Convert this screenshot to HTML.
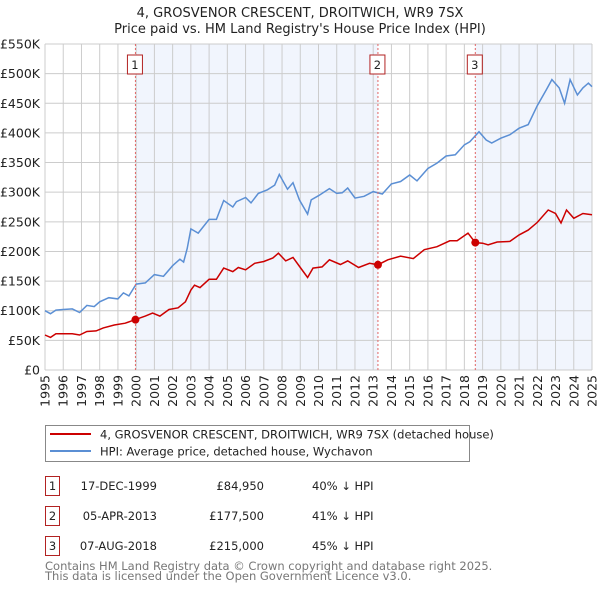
<!DOCTYPE html>
<html><head><meta charset="utf-8"><style>
body{margin:0;background:#fff;width:600px;height:590px;overflow:hidden}
svg{display:block;font-family:"DejaVu Sans","Liberation Sans",sans-serif}
</style></head><body>
<svg id="chart" width="600" height="590" viewBox="0 0 600 590">
<text x="300" y="17" text-anchor="middle" font-size="13" fill="#222">4, GROSVENOR CRESCENT, DROITWICH, WR9 7SX</text>
<text x="300" y="33" text-anchor="middle" font-size="13" fill="#222">Price paid vs. HM Land Registry's House Price Index (HPI)</text>
<g id="shade"></g><g id="grid"></g><g id="series"></g><g id="marks"></g>
<g>
<rect x="45.5" y="425.5" width="424" height="36" fill="#fff" stroke="#888"/>
<line x1="50" y1="434" x2="91" y2="434" stroke="#cc0000" stroke-width="2"/>
<text x="100" y="438.5" font-size="11.5" fill="#222">4, GROSVENOR CRESCENT, DROITWICH, WR9 7SX (detached house)</text>
<line x1="50" y1="451" x2="91" y2="451" stroke="#5b8fd4" stroke-width="2"/>
<text x="100" y="455.5" font-size="11.5" fill="#222">HPI: Average price, detached house, Wychavon</text>
</g>
<g id="table" font-size="11.5" fill="#222"></g>
<text x="45" y="570" font-size="11.5" fill="#777">Contains HM Land Registry data © Crown copyright and database right 2025.</text>
<text x="45" y="580" font-size="11.5" fill="#777">This data is licensed under the Open Government Licence v3.0.</text>
</svg>
<script>
const yTicks=[0,50,100,150,200,250,300,350,400,450,500,550];
const yTickLabels=["£0","£50K","£100K","£150K","£200K","£250K","£300K","£350K","£400K","£450K","£500K","£550K"];
const xYears=[1995,1996,1997,1998,1999,2000,2001,2002,2003,2004,2005,2006,2007,2008,2009,2010,2011,2012,2013,2014,2015,2016,2017,2018,2019,2020,2021,2022,2023,2024,2025];
const hpiT=[1995,1995.3,1995.6,1996,1996.5,1996.9,1997.3,1997.7,1998,1998.5,1999,1999.3,1999.6,2000,2000.5,2001,2001.5,2002,2002.4,2002.6,2002.8,2003,2003.4,2004,2004.4,2004.8,2005.3,2005.5,2006,2006.3,2006.7,2007.2,2007.6,2007.85,2008.3,2008.6,2008.95,2009.4,2009.6,2010,2010.6,2011,2011.3,2011.6,2012,2012.5,2013,2013.5,2014,2014.5,2015,2015.4,2016,2016.5,2017,2017.5,2018,2018.3,2018.8,2019.2,2019.5,2020,2020.5,2021,2021.5,2022,2022.5,2022.8,2023.2,2023.5,2023.8,2024.2,2024.5,2024.8,2025];
const hpiV=[100,95,101,102,103,97,109,107,115,122,120,130,125,145,147,161,158,176,187,182,205,238,231,254,254,286,275,284,291,282,298,304,312,330,305,316,287,263,287,294,306,298,299,307,290,293,301,297,314,318,329,319,340,349,361,363,380,385,402,388,383,391,397,408,414,446,473,490,476,450,490,464,476,484,478];
const ppT=[1995,1995.3,1995.6,1996.5,1996.9,1997.3,1997.8,1998.2,1998.8,1999.4,1999.96,2000.5,2000.9,2001.3,2001.8,2002.3,2002.7,2003,2003.2,2003.5,2004,2004.4,2004.8,2005.3,2005.6,2006,2006.5,2007,2007.5,2007.8,2008.2,2008.6,2009,2009.4,2009.7,2010.2,2010.6,2011.2,2011.6,2012.2,2012.8,2013.26,2013.8,2014.5,2015.2,2015.8,2016.5,2017.2,2017.6,2018.2,2018.6,2019,2019.3,2019.8,2020.5,2021,2021.5,2022,2022.6,2023,2023.3,2023.6,2024,2024.5,2025];
const ppV=[59,55,61,61,59,65,66,71,76,79,85,91,96,91,102,105,115,135,143,139,153,153,172,166,173,169,180,183,189,197,184,190,173,156,172,174,186,178,184,173,180,177.5,186,192,188,203,208,218,218,231,215,214,211,216,217,228,236,249,270,264,248,270,256,264,262];
const saleT=[1999.96,2013.26,2018.6];
const saleV=[84.95,177.5,215];
const saleLabels=["1","2","3"];
const saleDates=["17-DEC-1999","05-APR-2013","07-AUG-2018"];
const salePrices=["£84,950","£177,500","£215,000"];
const salePct=["40% ↓ HPI","41% ↓ HPI","45% ↓ HPI"];
const NS="http://www.w3.org/2000/svg";
const X0=45,X1=592,Y0=370,Y1=44;
function xs(t){return X0+(t-1995)/30*(X1-X0);}
function ys(v){return Y0-v/550*(Y0-Y1);}
function mk(p,tag,at){const e=document.createElementNS(NS,tag);for(const k in at)e.setAttribute(k,at[k]);p.appendChild(e);return e;}
const shade=document.getElementById('shade'),grid=document.getElementById('grid'),series=document.getElementById('series'),marks=document.getElementById('marks'),table=document.getElementById('table');
const spans=[[saleT[0],saleT[1]],[saleT[2],2025]];
spans.forEach((s,i)=>{const r=mk(shade,'rect',{x:xs(s[0]),y:Y1,width:xs(s[1])-xs(s[0]),height:Y0-Y1,fill:'#eef3fc',opacity:0.8});

});
yTicks.forEach((v,i)=>{const l=mk(grid,'line',{x1:X0,x2:X1,y1:ys(v),y2:ys(v),stroke:'#ccc','stroke-width':1});


const t=mk(grid,'text',{x:40,y:ys(v)+4.5,'text-anchor':'end','font-size':12.5,fill:'#222'});t.textContent=yTickLabels[i];

});
xYears.forEach(yr=>{const x=xs(yr);const l=mk(grid,'line',{x1:x,x2:x,y1:Y1,y2:Y0,stroke:'#ccc','stroke-width':1});


const t=mk(grid,'text',{x:0,y:0,'text-anchor':'end','font-size':12.5,fill:'#222',transform:`translate(${x+4.5},${Y0+5}) rotate(-90)`});t.textContent=yr;

});
function path(T,V){return T.map((t,i)=>(i?'L':'M')+xs(t).toFixed(1)+','+ys(V[i]).toFixed(1)).join(' ');}
const hp=mk(series,'path',{d:path(hpiT,hpiV),fill:'none',stroke:'#5b8fd4','stroke-width':1.5});


const pp=mk(series,'path',{d:path(ppT,ppV),fill:'none',stroke:'#cc0000','stroke-width':1.5});


saleT.forEach((t,i)=>{const x=xs(t);
const l=mk(marks,'line',{x1:x,x2:x,y1:Y1,y2:Y0,stroke:'#e06666','stroke-width':1,'stroke-dasharray':'2,2'});


const b=mk(marks,'rect',{x:x-8,y:55,width:15,height:19,fill:'#fff',stroke:'#b22222'});


const tx=mk(marks,'text',{x:x-0.5,y:69,'text-anchor':'middle','font-size':11.5,fill:'#222'});tx.textContent=saleLabels[i];


const c=mk(marks,'circle',{cx:x,cy:ys(saleV[i]),r:4,fill:'#cc0000'});


const ry=476+i*30;
const rb=mk(table,'rect',{x:45.5,y:ry+0.5,width:14,height:19,fill:'#fff',stroke:'#b22222'});


const cells=[[52.5,'middle',saleLabels[i],'table-row-number'],[157,'end',saleDates[i],'table-date'],[264,'end',salePrices[i],'table-price'],[312,'start',salePct[i],'table-hpi-diff']];
cells.forEach(c2=>{const e=mk(table,'text',{x:c2[0],y:ry+14,'text-anchor':c2[1]});e.textContent=c2[2];

});
});
</script>
</body></html>
